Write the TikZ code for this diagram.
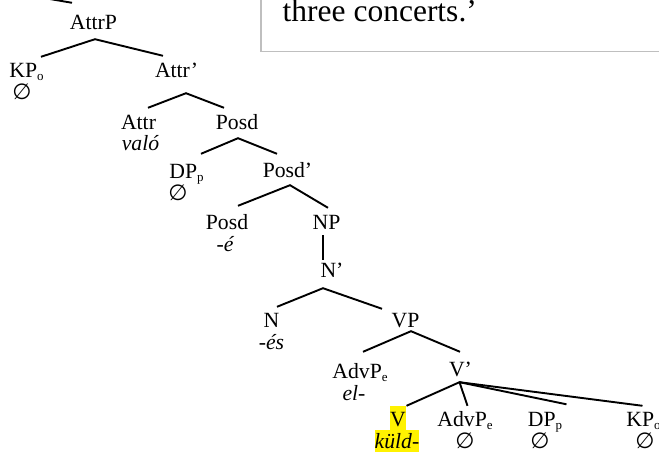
\documentclass[tikz,border=0pt]{standalone}
\usepackage{fontspec}
\setmainfont{Liberation Serif}
\newfontfamily\symfont{DejaVu Sans}
\usepackage{tikz}
\usetikzlibrary{arrows}
\usepackage{xcolor}
\newcommand{\nullset}{{\symfont\fontsize{22}{24}\selectfont ∅}}
\newcommand{\lsub}[1]{\raisebox{-3pt}{\fontsize{13}{14}\selectfont #1}}

\begin{document}
\begin{tikzpicture}[x=1pt,y=-1pt,
  lab/.style={font=\fontsize{21.7}{24}\selectfont, inner sep=0pt, anchor=base, text height=15pt, text depth=0pt},
  gloss/.style={font=\fontsize{21.7}{24}\selectfont\itshape, inner sep=0pt, anchor=base},
  hl/.style={fill=yellow},
  edge/.style={line width=1.9pt}]
\useasboundingbox (0,0) rectangle (659,454);
\clip (0,0) rectangle (659,454);
% box with the translation
\draw[color=black!25, line width=1.5pt] (261,-10) -- (261,51.5) -- (670,51.5);
\node[font=\fontsize{31.5}{36}\selectfont, anchor=base west, inner sep=0pt] (quote) at (282.5,22) {three concerts.’};
% tree labels
\coordinate (top) at (30,-4.4);
\node[lab] (AttrP) at (93.5,30) {AttrP};
\node[lab] (KPo) at (26.5,78) {KP\lsub{o}};
\node[lab] (Attrbar) at (176.5,78) {Attr’};
\node[lab] (Attr) at (138.5,130) {Attr};
\node[lab] (Posd) at (237,130) {Posd};
\node[lab] (DPp) at (186.5,179) {DP\lsub{p}};
\node[lab] (Posdbar) at (287.5,178) {Posd’};
\node[lab] (Posdhead) at (227,230) {Posd};
\node[lab] (NP) at (326.5,230) {NP};
\node[lab] (Nbar) at (332,278) {N’};
\node[lab] (N) at (271.5,328) {N};
\node[lab] (VP) at (405.5,328) {VP};
\node[lab] (AdvPe) at (360,378) {AdvP\lsub{e}};
\node[lab] (Vbar) at (460.5,377) {V’};
\node[lab, hl, text height=20pt, text depth=4pt] (V) at (398,426) {V};
\node[lab] (AdvPelow) at (465,426) {AdvP\lsub{e}};
\node[lab] (DPplow) at (545,426) {DP\lsub{p}};
\node[lab] (KPolow) at (643.5,426) {KP\lsub{o}};
% words under the labels
\node[gloss] (KPo-w) at (22,100) {\nullset};
\node[gloss] (Attr-w) at (140.5,151) {való};
\node[gloss] (DPp-w) at (178,201) {\nullset};
\node[gloss] (Posdhead-w) at (225,252) {-é};
\node[gloss] (N-w) at (271.5,350) {-és};
\node[gloss] (AdvPe-w) at (354,400) {el-};
\node[gloss, hl, text height=18pt, text depth=4pt] (V-w) at (397,448) {küld-};
\node[gloss] (AdvPelow-w) at (465,448) {\nullset};
\node[gloss] (DPplow-w) at (540,448) {\nullset};
\node[gloss] (KPolow-w) at (645,448) {\nullset};
% branches
\draw[edge] (top) -- ([xshift=-21.5,yshift=12]AttrP.north);
\draw[edge] ([xshift=-13.5,yshift=7]Attrbar.north) -- ([xshift=1.5,yshift=-9]AttrP.south) -- ([xshift=14.5,yshift=6]KPo.north);
\draw[edge] ([xshift=9.5,yshift=7]Attr.north) -- ([xshift=9.5,yshift=-15]Attrbar.south) -- ([xshift=-13,yshift=7]Posd.north);
\draw[edge] ([xshift=14.5,yshift=10]DPp.north) -- ([xshift=1,yshift=-8]Posd.south) -- ([xshift=-10.5,yshift=9]Posdbar.north);
\draw[edge] ([xshift=11,yshift=9]Posdhead.north) -- ([xshift=2.5,yshift=-7]Posdbar.south) -- ([xshift=1.5,yshift=7]NP.north);
\draw[edge] ([xshift=-3.5,yshift=-5]NP.south) -- ([xshift=-9,yshift=3]Nbar.north);
\draw[edge] ([xshift=5.5,yshift=6]N.north) -- ([xshift=-9,yshift=-10]Nbar.south) -- ([xshift=-23.5,yshift=4]VP.north);
\draw[edge] ([xshift=3,yshift=11]AdvPe.north) -- ([xshift=5.5,yshift=-3]VP.south) -- ([xshift=-0.5,yshift=10]Vbar.north);
\draw[edge] ([xshift=8.5]V.north) -- ([xshift=-1,yshift=-5]Vbar.south) -- ([xshift=2.5,yshift=5]AdvPelow.north);
\draw[edge] ([xshift=-1,yshift=-5]Vbar.south) -- ([xshift=21.5,yshift=6.5]DPplow.north);
\draw[edge] ([xshift=-1,yshift=-5]Vbar.south) -- ([xshift=-1,yshift=5]KPolow.north);
\end{tikzpicture}
\end{document}
